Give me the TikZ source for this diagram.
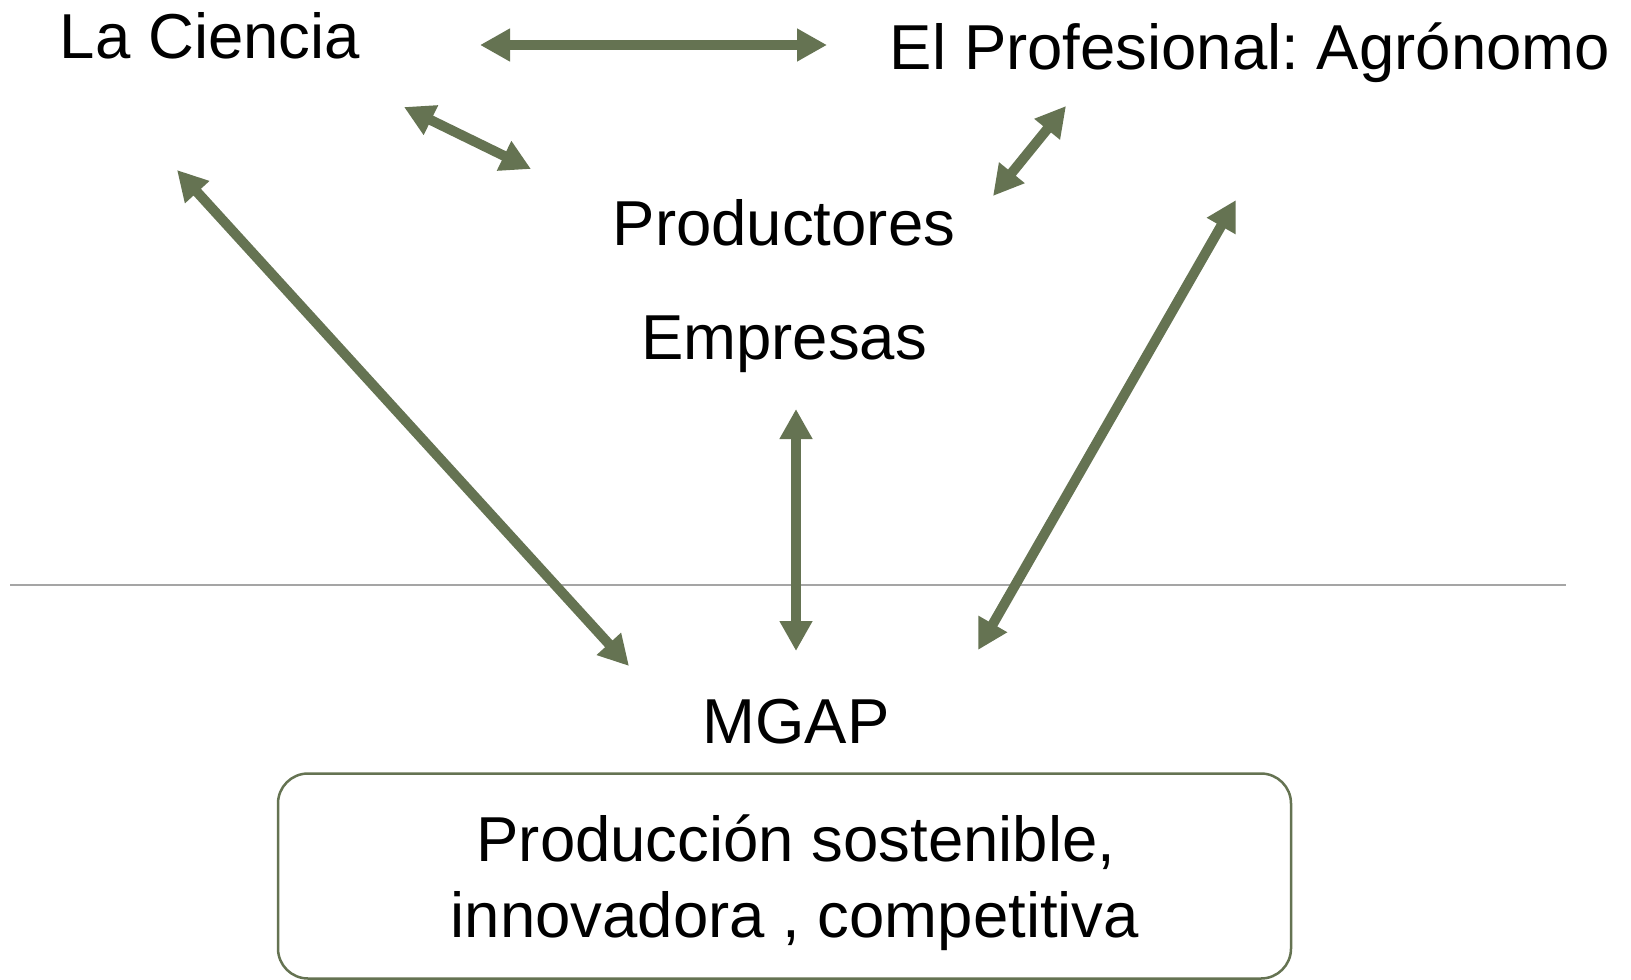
\documentclass[tikz,border=0pt]{standalone}
\usepackage{fontspec}
\setmainfont{Liberation Sans}
\usepackage{tikz}
\usetikzlibrary{arrows.meta, positioning}
\frenchspacing
\definecolor{olivegreen}{RGB}{101, 115, 82}
\definecolor{rulegray}{RGB}{165, 165, 165}
\tikzset{
  actor/.style={
    anchor=base, inner sep=0pt,
    font=\fontsize{63.5}{76}\selectfont
  },
  goalbox/.style={
    draw=olivegreen, rectangle, rounded corners=30pt, line width=2.5pt,
    minimum width=1013pt, minimum height=205pt, inner sep=0pt
  },
  arrow/.style={
    {Triangle[length=30pt,width=31pt]}-{Triangle[length=30pt,width=31pt]},
    line width=10pt, draw=olivegreen
  }
}

\begin{document}
\begin{tikzpicture}[x=1pt, y=-1pt]
    \useasboundingbox (0,0) rectangle (1631,980);

    % the actors
    \node[actor] (ciencia) at (210,58) {La Ciencia};
    \node[actor] (agronomo) at (1250,69) {El Profesional: Agrónomo};
    \node[actor] (productores) at (784,245) {Productores};
    \node[actor] (empresas) at (784,359) {Empresas};
    \node[actor] (mgap) at (796,743) {MGAP};

    % the goal
    \node[goalbox] (meta) at (784.5,876) {};
    \node[actor] (metaA) at (796,861) {Producción sostenible,};
    \node[actor] (metaB) at (795,937) {innovadora , competitiva};

    % separator
    \draw[rulegray, line width=1.5pt] (10,585) -- (1566,585);

    % arrow ends
    \coordinate (cienciaE) at (480,45);
    \coordinate (agronomoW) at (827,45);
    \coordinate (cienciaSE) at (404,107);
    \coordinate (productoresNW) at (531,169);
    \coordinate (agronomoSW) at (1066,106);
    \coordinate (productoresNE) at (993,196);
    \coordinate (cienciaS) at (177,170);
    \coordinate (mgapNW) at (629,666);
    \coordinate (empresasS) at (796,409);
    \coordinate (mgapN) at (796,651);
    \coordinate (agronomoS) at (1236,200);
    \coordinate (mgapNE) at (978,650);

    \draw[arrow] (cienciaE) -- (agronomoW);
    \draw[arrow] (cienciaSE) -- (productoresNW);
    \draw[arrow] (agronomoSW) -- (productoresNE);
    \draw[arrow] (cienciaS) -- (mgapNW);
    \draw[arrow] (empresasS) -- (mgapN);
    \draw[arrow] (agronomoS) -- (mgapNE);
\end{tikzpicture}
\end{document}
